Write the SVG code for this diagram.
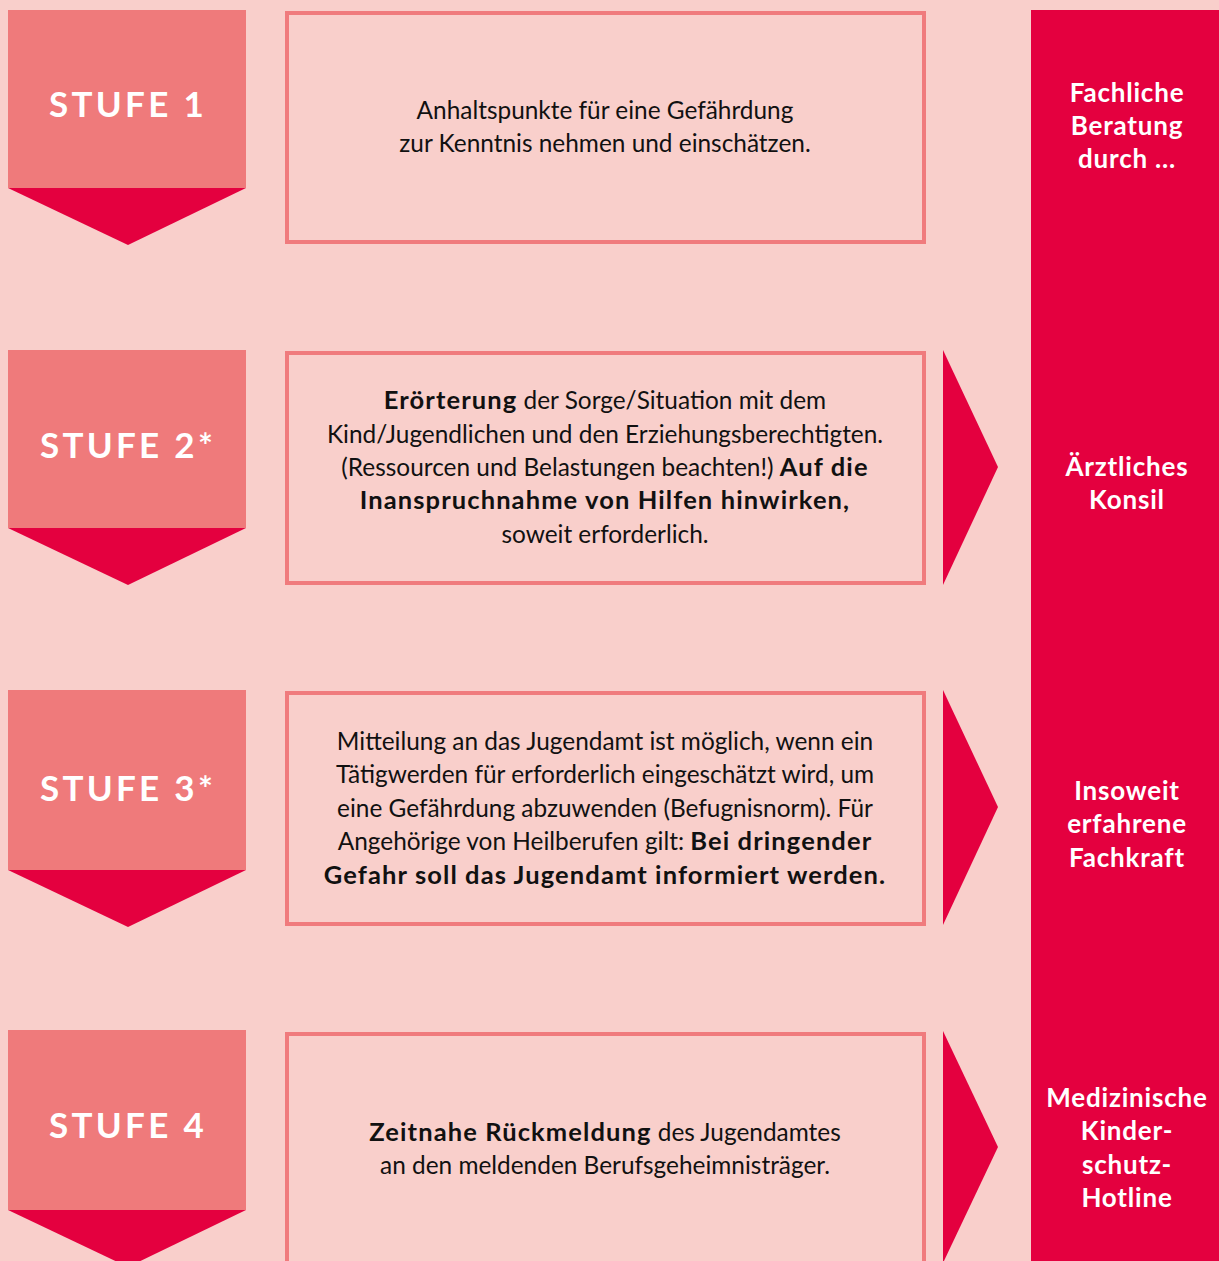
<svg xmlns="http://www.w3.org/2000/svg" width="1219" height="1261" viewBox="0 0 1219 1261">
<style>
.stufe{fill:#EF7A7B}
.down{fill:#E4003F}
.box{fill:none;stroke:#F07B7D;stroke-width:4}
.right{fill:#E4003F}
.lbl{font-family:Lato,"Open Sans",sans-serif;font-weight:bold;font-size:35px;fill:#fff;text-anchor:middle;letter-spacing:3.3px}
.t{font-family:Lato,"Open Sans",sans-serif;font-size:24.4px;fill:#111;text-anchor:middle}
.b{font-weight:bold;font-size:25.5px;letter-spacing:1.1px}
.r{font-family:Lato,"Open Sans",sans-serif;font-weight:bold;font-size:26px;fill:#fff;text-anchor:middle;letter-spacing:0.8px}
</style>
<rect width="1219" height="1261" fill="#F9CFCB"/>
<g id="side">
<rect class="right" x="1031" y="10" width="188" height="1251"/>
<text class="r" x="1127" y="102">Fachliche</text>
<text class="r" x="1127" y="135">Beratung</text>
<text class="r" x="1127" y="168">durch ...</text>
<text class="r" x="1127" y="476">Ärztliches</text>
<text class="r" x="1127" y="509">Konsil</text>
<text class="r" x="1127" y="800">Insoweit</text>
<text class="r" x="1127" y="833">erfahrene</text>
<text class="r" x="1127" y="867">Fachkraft</text>
<text class="r" x="1127" y="1107">Medizinische</text>
<text class="r" x="1127" y="1140">Kinder-</text>
<text class="r" x="1127" y="1174">schutz-</text>
<text class="r" x="1127" y="1207">Hotline</text>
</g>
<g id="stufe1">
<rect class="stufe" x="8" y="10" width="238" height="178"/>
<polygon class="down" points="8,188 246,188 128,245"/>
<text class="lbl" x="128" y="117">STUFE 1</text>
</g>
<g id="box1">
<rect class="box" x="287" y="13" width="637" height="229"/>
<text class="t" x="605" y="119">Anhaltspunkte für eine Gefährdung</text>
<text class="t" x="605" y="152">zur Kenntnis nehmen und einschätzen.</text>
</g>
<g id="stufe2">
<rect class="stufe" x="8" y="350" width="238" height="178"/>
<polygon class="down" points="8,528 246,528 128,585"/>
<text class="lbl" x="128" y="458">STUFE 2*</text>
</g>
<g id="box2">
<rect class="box" x="287" y="353" width="637" height="230"/>
<text class="t" x="605" y="409"><tspan class="b">Erörterung</tspan> der Sorge/Situation mit dem</text>
<text class="t" x="605" y="443">Kind/Jugendlichen und den Erziehungsberechtigten.</text>
<text class="t" x="605" y="476">(Ressourcen und Belastungen beachten!) <tspan class="b">Auf die</tspan></text>
<text class="t b" x="605" y="509">Inanspruchnahme von Hilfen hinwirken,</text>
<text class="t" x="605" y="543">soweit erforderlich.</text>
</g>
<g id="stufe3">
<rect class="stufe" x="8" y="690" width="238" height="180"/>
<polygon class="down" points="8,870 246,870 128,927"/>
<text class="lbl" x="128" y="801">STUFE 3*</text>
</g>
<g id="box3">
<rect class="box" x="287" y="693" width="637" height="231"/>
<text class="t" x="605" y="750">Mitteilung an das Jugendamt ist möglich, wenn ein</text>
<text class="t" x="605" y="783">Tätigwerden für erforderlich eingeschätzt wird, um</text>
<text class="t" x="605" y="817">eine Gefährdung abzuwenden (Befugnisnorm). Für</text>
<text class="t" x="605" y="850">Angehörige von Heilberufen gilt: <tspan class="b">Bei dringender</tspan></text>
<text class="t b" x="605" y="884">Gefahr soll das Jugendamt informiert werden.</text>
</g>
<g id="stufe4">
<rect class="stufe" x="8" y="1030" width="238" height="180"/>
<polygon class="down" points="8,1210 246,1210 128,1267"/>
<text class="lbl" x="128" y="1138">STUFE 4</text>
</g>
<g id="box4">
<rect class="box" x="287" y="1034" width="637" height="240"/>
<text class="t" x="605" y="1141"><tspan class="b">Zeitnahe Rückmeldung</tspan> des Jugendamtes</text>
<text class="t" x="605" y="1174">an den meldenden Berufsgeheimnisträger.</text>
</g>
<g id="connectors">
<polygon class="down" points="943,350 998,467 943,585"/>
<polygon class="down" points="943,690 998,807 943,925"/>
<polygon class="down" points="943,1031 998,1147 943,1263"/>
</g>
</svg>
